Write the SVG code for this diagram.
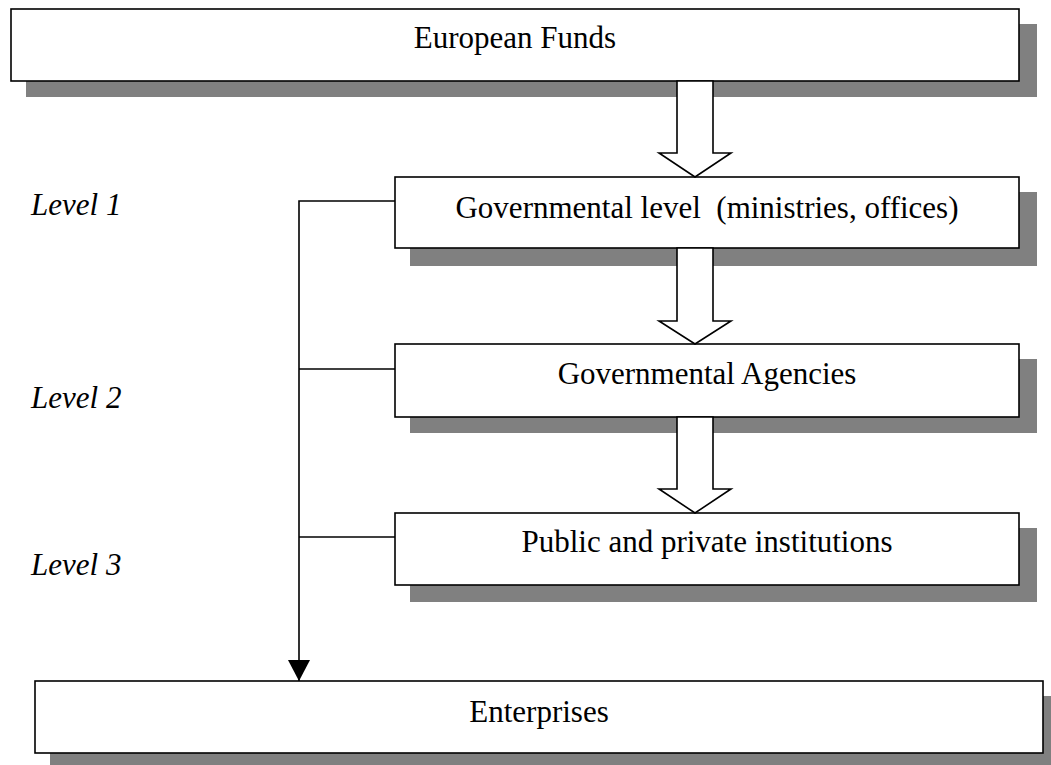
<svg xmlns="http://www.w3.org/2000/svg" width="1051" height="765" viewBox="0 0 1051 765">
  <style>
    .shadow { fill: #808080; }
    .box { fill: #ffffff; stroke: #000000; stroke-width: 1.6; }
    .label { font-size: 31px; fill: #000000; text-anchor: middle; white-space: pre; }
    .level { font-size: 31px; font-style: italic; fill: #000000; }
    .block { fill: #ffffff; stroke: #000000; stroke-width: 1.6; stroke-linejoin: miter; }
    .wire { fill: none; stroke: #000000; stroke-width: 1.6; }
  </style>
  <defs>
    <marker id="tri" markerUnits="userSpaceOnUse" markerWidth="22" markerHeight="22" viewBox="0 0 22 22" refX="21" refY="11" orient="auto">
      <path d="M0,0 L21,11 L0,22 Z" fill="#000000"/>
    </marker>
  </defs>

  <rect width="1051" height="765" fill="#ffffff"/>

  <!-- drop shadows -->
  <g id="shadows">
    <rect class="shadow" x="26" y="24" width="1011" height="73"/>
    <rect class="shadow" x="410" y="192" width="627" height="74"/>
    <rect class="shadow" x="410" y="359" width="627" height="74"/>
    <rect class="shadow" x="410" y="528" width="627" height="74"/>
    <rect class="shadow" x="50" y="696" width="1011" height="73"/>
  </g>

  <g font-family="'Liberation Serif', 'DejaVu Serif', serif">
    <!-- nodes -->
    <g id="european-funds">
      <rect class="box" x="11" y="9" width="1008" height="72"/>
      <text class="label" x="515" y="48">European Funds</text>
    </g>
    <g id="governmental-level">
      <rect class="box" x="395" y="177" width="624" height="71"/>
      <text class="label" x="707" y="218">Governmental level  (ministries, offices)</text>
    </g>
    <g id="governmental-agencies">
      <rect class="box" x="395" y="344" width="624" height="73"/>
      <text class="label" x="707" y="384">Governmental Agencies</text>
    </g>
    <g id="institutions">
      <rect class="box" x="395" y="513" width="624" height="72"/>
      <text class="label" x="707" y="552">Public and private institutions</text>
    </g>
    <g id="enterprises">
      <rect class="box" x="35" y="681" width="1008" height="72"/>
      <text class="label" x="539" y="722">Enterprises</text>
    </g>

    <!-- level captions -->
    <g id="levels">
      <text class="level" x="31" y="215">Level 1</text>
      <text class="level" x="31" y="408">Level 2</text>
      <text class="level" x="31" y="575">Level 3</text>
    </g>
  </g>

  <!-- connectors -->
  <g id="connectors">
    <path class="block" d="M677,81 L713,81 L713,153 L731,153 L695,177 L659,153 L677,153 Z"/>
    <path class="block" d="M677,248 L713,248 L713,321 L731,321 L695,344 L659,321 L677,321 Z"/>
    <path class="block" d="M677,417 L713,417 L713,489 L731,489 L695,513 L659,489 L677,489 Z"/>
    <path class="wire" d="M395,201 L299,201 L299,681" marker-end="url(#tri)"/>
    <path class="wire" d="M299,369 L395,369"/>
    <path class="wire" d="M299,537 L395,537"/>
  </g>
</svg>
